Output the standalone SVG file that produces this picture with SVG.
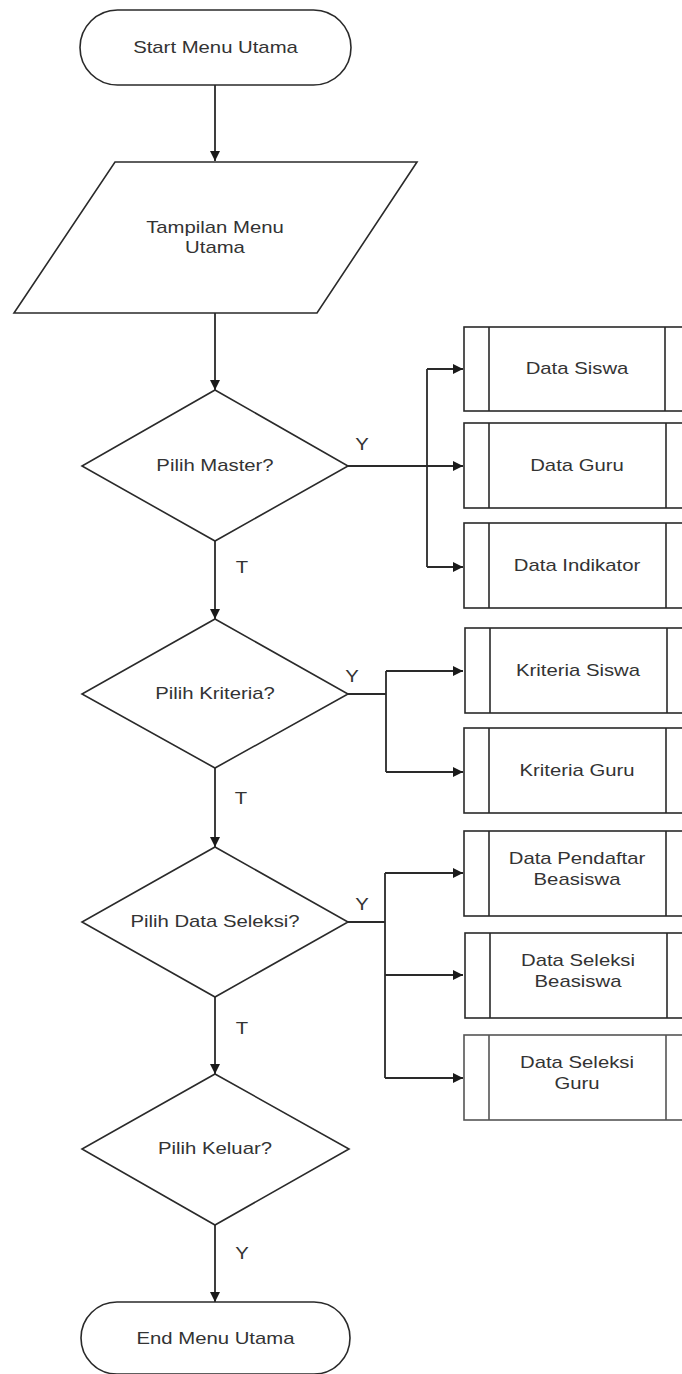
<svg xmlns="http://www.w3.org/2000/svg" width="682" height="1374" viewBox="0 0 682 1374">
  <style>
    .shape { fill: #ffffff; stroke: #2a2a2a; stroke-width: 1.6; }
    .inner { fill: none; stroke: #2a2a2a; stroke-width: 1.6; }
    .edge { fill: none; stroke: #2a2a2a; stroke-width: 1.8; }
    .lbl { font-family: "Liberation Sans", Arial, sans-serif; font-size: 16px; fill: #333333; text-anchor: middle; }
  </style>
  <defs>
    <marker id="arrow" viewBox="0 0 10 10" refX="10" refY="5" markerWidth="12" markerHeight="10" markerUnits="userSpaceOnUse" orient="auto">
      <path d="M0,0 L10,5 L0,10 z" fill="#1a1a1a"/>
    </marker>
  </defs>
  <rect width="682" height="1374" fill="#ffffff"/>

  <!-- connectors -->
  <g id="connectors">
    <path class="edge" d="M215,85 V161" marker-end="url(#arrow)"/>
    <path class="edge" d="M215,313 V390" marker-end="url(#arrow)"/>
    <!-- Pilih Master? : Y -->
    <path class="edge" d="M348,466 H463" marker-end="url(#arrow)"/>
    <path class="edge" d="M427,369 V567"/>
    <path class="edge" d="M427,369 H463" marker-end="url(#arrow)"/>
    <path class="edge" d="M427,567 H463" marker-end="url(#arrow)"/>
    <!-- Pilih Master? : T -->
    <path class="edge" d="M215,541 V619" marker-end="url(#arrow)"/>
    <!-- Pilih Kriteria? : Y -->
    <path class="edge" d="M348,694 H386 M386,671 V772"/>
    <path class="edge" d="M386,671 H463" marker-end="url(#arrow)"/>
    <path class="edge" d="M386,772 H463" marker-end="url(#arrow)"/>
    <!-- Pilih Kriteria? : T -->
    <path class="edge" d="M215,768 V847" marker-end="url(#arrow)"/>
    <!-- Pilih Data Seleksi? : Y -->
    <path class="edge" d="M348,922 H385 M385,873 V1078"/>
    <path class="edge" d="M385,873 H463" marker-end="url(#arrow)"/>
    <path class="edge" d="M385,975 H463" marker-end="url(#arrow)"/>
    <path class="edge" d="M385,1078 H463" marker-end="url(#arrow)"/>
    <!-- Pilih Data Seleksi? : T -->
    <path class="edge" d="M215,997 V1074" marker-end="url(#arrow)"/>
    <!-- Pilih Keluar? : Y -->
    <path class="edge" d="M215,1225 V1302" marker-end="url(#arrow)"/>

    <text class="lbl" transform="matrix(1.27 0 0 1 362 450)">Y</text>
    <text class="lbl" transform="matrix(1.27 0 0 1 242 573)">T</text>
    <text class="lbl" transform="matrix(1.27 0 0 1 352 682)">Y</text>
    <text class="lbl" transform="matrix(1.27 0 0 1 241 804)">T</text>
    <text class="lbl" transform="matrix(1.27 0 0 1 362 910)">Y</text>
    <text class="lbl" transform="matrix(1.27 0 0 1 242 1034)">T</text>
    <text class="lbl" transform="matrix(1.27 0 0 1 242 1259)">Y</text>
  </g>

  <!-- terminators -->
  <g id="start">
    <rect class="shape" x="80" y="10" width="271" height="75" rx="37.5" ry="37.5"/>
    <text class="lbl" transform="matrix(1.27 0 0 1 215.5 53)">Start Menu Utama</text>
  </g>

  <!-- input/output -->
  <g id="tampilan">
    <polygon class="shape" points="115,162 417,162 317,313 14,313"/>
    <text class="lbl" transform="matrix(1.27 0 0 1 215 233)">Tampilan Menu</text>
    <text class="lbl" transform="matrix(1.27 0 0 1 215 253)">Utama</text>
  </g>

  <!-- decisions -->
  <g id="pilih-master">
    <polygon class="shape" points="215,390 348,466 215,541 82,466"/>
    <text class="lbl" transform="matrix(1.27 0 0 1 215 471)">Pilih Master?</text>
  </g>
  <g id="pilih-kriteria">
    <polygon class="shape" points="215,619 348,694 215,768 82,694"/>
    <text class="lbl" transform="matrix(1.27 0 0 1 215 699)">Pilih Kriteria?</text>
  </g>
  <g id="pilih-data-seleksi">
    <polygon class="shape" points="215,847 348,922 215,997 82,922"/>
    <text class="lbl" transform="matrix(1.27 0 0 1 215 927)">Pilih Data Seleksi?</text>
  </g>
  <g id="pilih-keluar">
    <polygon class="shape" points="215,1074 349,1149 215,1225 82,1149"/>
    <text class="lbl" transform="matrix(1.27 0 0 1 215 1154)">Pilih Keluar?</text>
  </g>

  <g id="end">
    <rect class="shape" x="81" y="1302" width="269" height="72" rx="36" ry="36"/>
    <text class="lbl" transform="matrix(1.27 0 0 1 215.5 1344)">End Menu Utama</text>
  </g>

  <!-- predefined processes -->
  <g id="data-siswa">
    <rect class="shape" x="464" y="327" width="228" height="84"/>
    <path class="inner" d="M489,327 V411 M665,327 V411"/>
    <text class="lbl" transform="matrix(1.27 0 0 1 577 374)">Data Siswa</text>
  </g>
  <g id="data-guru">
    <rect class="shape" x="464" y="423" width="228" height="85"/>
    <path class="inner" d="M489,423 V508 M666,423 V508"/>
    <text class="lbl" transform="matrix(1.27 0 0 1 577 471)">Data Guru</text>
  </g>
  <g id="data-indikator">
    <rect class="shape" x="464" y="523" width="228" height="85"/>
    <path class="inner" d="M489,523 V608 M666,523 V608"/>
    <text class="lbl" transform="matrix(1.27 0 0 1 577 571)">Data Indikator</text>
  </g>
  <g id="kriteria-siswa">
    <rect class="shape" x="465" y="628" width="228" height="85"/>
    <path class="inner" d="M490,628 V713 M667,628 V713"/>
    <text class="lbl" transform="matrix(1.27 0 0 1 578 676)">Kriteria Siswa</text>
  </g>
  <g id="kriteria-guru">
    <rect class="shape" x="464" y="728" width="228" height="85"/>
    <path class="inner" d="M489,728 V813 M666,728 V813"/>
    <text class="lbl" transform="matrix(1.27 0 0 1 577 776)">Kriteria Guru</text>
  </g>
  <g id="data-pendaftar-beasiswa">
    <rect class="shape" x="464" y="831" width="228" height="85"/>
    <path class="inner" d="M489,831 V916 M666,831 V916"/>
    <text class="lbl" transform="matrix(1.27 0 0 1 577 864)">Data Pendaftar</text>
    <text class="lbl" transform="matrix(1.27 0 0 1 577 885)">Beasiswa</text>
  </g>
  <g id="data-seleksi-beasiswa">
    <rect class="shape" x="465" y="933" width="228" height="85"/>
    <path class="inner" d="M490,933 V1018 M667,933 V1018"/>
    <text class="lbl" transform="matrix(1.27 0 0 1 578 966)">Data Seleksi</text>
    <text class="lbl" transform="matrix(1.27 0 0 1 578 987)">Beasiswa</text>
  </g>
  <g id="data-seleksi-guru">
    <rect class="shape" x="464" y="1035" width="228" height="85" style="stroke:#555555"/>
    <path class="inner" d="M489,1035 V1120 M666,1035 V1120" style="stroke:#555555"/>
    <text class="lbl" transform="matrix(1.27 0 0 1 577 1068)">Data Seleksi</text>
    <text class="lbl" transform="matrix(1.27 0 0 1 577 1089)">Guru</text>
  </g>
</svg>
